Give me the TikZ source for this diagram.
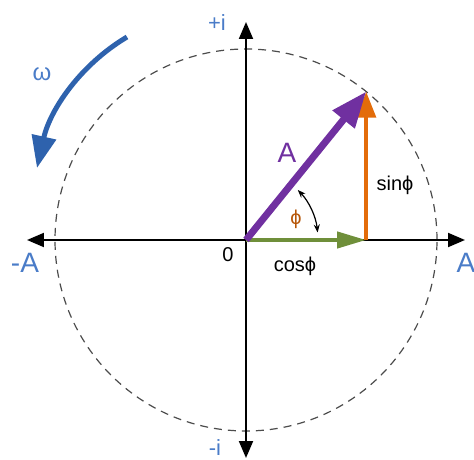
\documentclass[tikz,border=0pt]{standalone}
\usepackage{fontspec}
\setmainfont{Liberation Sans}
\usetikzlibrary{arrows.meta}
\definecolor{vecpurple}{HTML}{7030A0}
\definecolor{vecorange}{HTML}{E36C0A}
\definecolor{vecgreen}{HTML}{6F8F3A}
\definecolor{lblblue}{HTML}{4A7CC8}
\definecolor{omegablue}{HTML}{2E62AD}

\begin{document}
\begin{tikzpicture}[x=1pt,y=1pt,>=Latex,
  axis/.style={line width=2pt,-{Triangle[length=17pt,width=14pt]}},
  lbl/.style={font=\fontsize{20}{24}\selectfont},
  biglbl/.style={font=\fontsize{28}{32}\selectfont}]
  \useasboundingbox (-246,-220) rectangle (228,240);
  \coordinate (O) at (0,0);
  \coordinate (P) at (51:191);
  \coordinate (Px) at (P |- O);
  \coordinate (xl) at (-219,0);
  \coordinate (xr) at (219,0);
  \coordinate (yt) at (0,218);
  \coordinate (yb) at (0,-218);
  % unit circle
  \draw[gray!60!black,line width=1.2pt,dash pattern=on 8pt off 6pt] (O) circle (191);
  % axes
  \draw[axis] (O) -- (xr);
  \draw[axis] (O) -- (xl);
  \draw[axis] (O) -- (yt);
  \draw[axis] (O) -- (yb);
  \node[font=\fontsize{22}{26}\selectfont,text=lblblue] (pi) at (-29,217) {+i};
  \node[font=\fontsize{22}{26}\selectfont,text=lblblue,inner sep=0pt] (mi) at (-31,-208) {-i};
  \node[biglbl,text=lblblue] (mA) at (-221,-23) {-A};
  \node[biglbl,text=lblblue] (pA) at (220,-23) {A};
  \node[lbl] (zero) at (-18,-15) {0};
  % phasor and its parts
  \draw[vecgreen,line width=4pt,-{Triangle[length=29pt,width=16pt]}] (O) -- (Px);
  \draw[vecorange,line width=4.5pt,-{Triangle[length=26pt,width=19pt]}] (Px) -- (P);
  \draw[vecpurple,line width=7pt,-{Triangle[length=36pt,width=27pt]}] (O) -- (P);
  \node[biglbl,text=vecpurple] (amp) at (41,87) {A};
  \node[lbl] (cos) at (49,-26) {cosϕ};
  \node[lbl] (sin) at (149,55) {sinϕ};
  % angle
  \draw[line width=1.2pt,{Stealth[length=8pt,width=6pt]}-{Stealth[length=8pt,width=6pt]}] (44:72) arc (44:6:72);
  \node[lbl,text=vecorange!80!black] (phi) at (50,21) {ϕ};
  % rotation
  \coordinate (w0) at (-119,203);
  \coordinate (w1) at (-209,72);
  \draw[omegablue,line width=5pt,-{Triangle[length=32pt,width=24pt]}] (w0) .. controls (-166,175) and (-196,130) .. (w1);
  \node[font=\fontsize{24}{28}\selectfont,text=lblblue] (omega) at (-204,166) {ω};
\end{tikzpicture}
\end{document}
